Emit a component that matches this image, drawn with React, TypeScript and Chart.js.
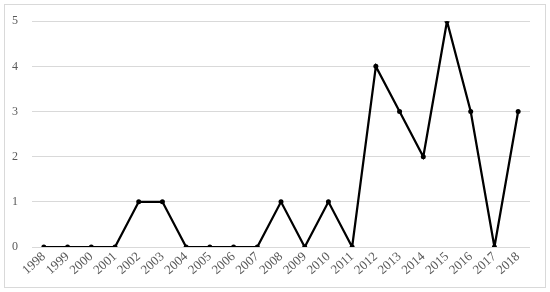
import React, { useEffect, useRef } from "react";
import { Chart, registerables } from "chart.js";

Chart.register(...registerables);

const years: string[] = [
  "1998", "1999", "2000", "2001", "2002", "2003", "2004", "2005", "2006", "2007",
  "2008", "2009", "2010", "2011", "2012", "2013", "2014", "2015", "2016", "2017", "2018",
];
const counts: number[] = [0, 0, 0, 0, 1, 1, 0, 0, 0, 0, 1, 0, 1, 0, 4, 3, 2, 5, 3, 0, 3];
const yTicks: number[] = [0, 1, 2, 3, 4, 5];

const borderPlugin = {
  id: "outerBorder",
  beforeDraw(chart: any) {
    const ctx = chart.ctx;
    ctx.save();
    ctx.fillStyle = "#ffffff";
    ctx.fillRect(0, 0, chart.width, chart.height);
    ctx.strokeStyle = "#d9d9d9";
    ctx.lineWidth = 1;
    ctx.strokeRect(4.5, 4.5, 541, 283);
    ctx.restore();
  },
};

const fontFamily = "'Liberation Serif', 'DejaVu Serif', serif";

export default function App() {
  const ref = useRef<HTMLCanvasElement | null>(null);
  useEffect(() => {
    document.body.style.margin = "0";
    const chart = new Chart(ref.current as HTMLCanvasElement, {
      type: "line",
      data: {
        labels: years,
        datasets: [
          {
            data: counts,
            borderColor: "#000000",
            backgroundColor: "#000000",
            borderWidth: 2.25,
            pointRadius: 2.5,
            pointBackgroundColor: "#000000",
            pointBorderWidth: 0,
            tension: 0,
          },
        ],
      },
      options: {
        animation: false,
        responsive: false,
        devicePixelRatio: 1,
        layout: { padding: { left: 0, top: 19, right: 20, bottom: 0 } },
        plugins: { legend: { display: false }, tooltip: { enabled: false } },
        scales: {
          x: {
            offset: true,
            grid: { display: false, drawTicks: false },
            border: { display: false },
            afterFit(scale: any) {
              scale.height = 45;
            },
            ticks: {
              autoSkip: false,
              maxRotation: 42,
              minRotation: 42,
              padding: 2,
              color: "#595959",
              font: { family: fontFamily, size: 13 },
            },
          },
          y: {
            min: 0,
            max: 5,
            afterFit(scale: any) {
              scale.width = 32;
            },
            afterBuildTicks(scale: any) {
              scale.ticks = yTicks.map((v) => ({ value: v }));
            },
            grid: { color: "#d9d9d9", lineWidth: 1, drawTicks: false },
            border: { display: false },
            ticks: {
              padding: 14,
              color: "#595959",
              font: { family: fontFamily, size: 12 },
            },
          },
        },
      },
      plugins: [borderPlugin],
    });
    return () => chart.destroy();
  }, []);
  return (
    <div style={{ width: 550, height: 292 }}>
      <canvas ref={ref} width={550} height={292} style={{ width: 550, height: 292 }} />
    </div>
  );
}
